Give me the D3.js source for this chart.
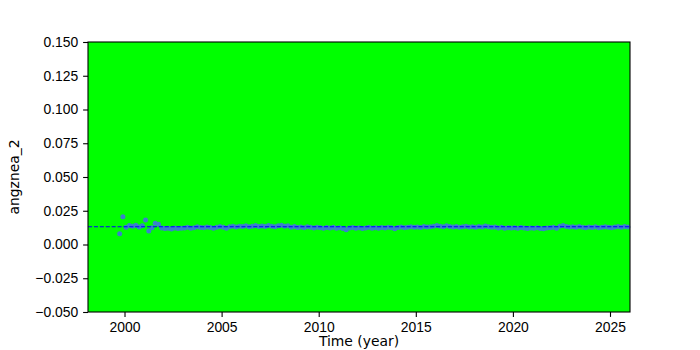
<!DOCTYPE html>
<html>
<head>
<meta charset="utf-8">
<script src="https://cdn.jsdelivr.net/npm/d3@7"></script>
<style>
  body { margin: 0; background: #fff; }
  svg { display: block; font-family: "DejaVu Sans", sans-serif; }
</style>
</head>
<body>
<svg id="chart" width="700" height="350"></svg>
<script>
//  data: one value every two months, starting at 1999.75
const start_year = 1999.75;
const step_year = 1 / 6;
const values = [
  0.0080, 0.0205,
  0.0128, 0.0140, 0.0135, 0.0142, 0.0130, 0.0138,
  0.0182, 0.0100, 0.0125, 0.0157, 0.0150, 0.0122,
  0.0118, 0.0120, 0.0115, 0.0122, 0.0118, 0.0120,
  0.0123, 0.0128, 0.0120, 0.0125, 0.0132, 0.0126,
  0.0124, 0.0130, 0.0126, 0.0121, 0.0128, 0.0133,
  0.0127, 0.0120, 0.0131, 0.0135, 0.0130, 0.0136,
  0.0133, 0.0138, 0.0132, 0.0136, 0.0140, 0.0134,
  0.0137, 0.0133, 0.0140, 0.0136, 0.0131, 0.0138,
  0.0142, 0.0135, 0.0139, 0.0128, 0.0133, 0.0126,
  0.0129, 0.0124, 0.0131, 0.0127, 0.0122, 0.0128,
  0.0125, 0.0121, 0.0126, 0.0123, 0.0127, 0.0120,
  0.0124, 0.0118, 0.0110, 0.0122, 0.0126, 0.0121,
  0.0125, 0.0119, 0.0123, 0.0127, 0.0121, 0.0124,
  0.0120, 0.0126, 0.0122, 0.0128, 0.0124, 0.0117,
  0.0126, 0.0130, 0.0124, 0.0128, 0.0132, 0.0127,
  0.0130, 0.0126, 0.0133, 0.0129, 0.0131, 0.0135,
  0.0140, 0.0136, 0.0132, 0.0138, 0.0134, 0.0130,
  0.0133, 0.0127, 0.0131, 0.0135, 0.0129, 0.0132,
  0.0128, 0.0134, 0.0130, 0.0137, 0.0131, 0.0127,
  0.0129, 0.0123, 0.0127, 0.0121, 0.0125, 0.0122,
  0.0124, 0.0120, 0.0126, 0.0122, 0.0118, 0.0123,
  0.0121, 0.0125, 0.0119, 0.0116, 0.0122, 0.0124,
  0.0127, 0.0121, 0.0135, 0.0140, 0.0133, 0.0129,
  0.0131, 0.0127, 0.0134, 0.0128, 0.0125, 0.0130,
  0.0126, 0.0131, 0.0124, 0.0128, 0.0132, 0.0127,
  0.0125, 0.0130, 0.0133, 0.0127, 0.0134, 0.0129
];
const mean_value = 0.0132;
const x_ticks = [2000, 2005, 2010, 2015, 2020, 2025];
const y_ticks = [-0.05, -0.025, 0, 0.025, 0.05, 0.075, 0.1, 0.125, 0.15];
const x_domain = [1998.12, 2026.03];
const y_domain = [-0.05, 0.15];

//  draw
function draw_chart() {
  const margin = ({top: 42, right: 70, bottom: 38, left: 88});
  const svg = d3.select("#chart");
  const w = 700, h = 350;
  const fs = 13.9;

  const x = d3.scaleLinear().domain(x_domain).range([margin.left, w - margin.right]);
  const y = d3.scaleLinear().domain(y_domain).range([h - margin.bottom, margin.top]);

  svg.append("rect")
    .attr("x", margin.left).attr("y", margin.top)
    .attr("width", w - margin.left - margin.right)
    .attr("height", h - margin.top - margin.bottom)
    .attr("fill", "#00ff00");

  const data = values.map((v, i) => ({year: start_year + i * step_year, value: v}));

  svg.append("g")
    .selectAll("circle")
    .data(data)
    .join("circle")
      .attr("cx", d => x(d.year))
      .attr("cy", d => y(d.value))
      .attr("r", 2.5)
      .attr("fill", "#3a80cc");

  svg.append("line")
    .attr("x1", margin.left).attr("x2", w - margin.right)
    .attr("y1", y(mean_value)).attr("y2", y(mean_value))
    .attr("stroke", "#0000ff")
    .attr("stroke-width", 1.1)
    .attr("stroke-dasharray", "4.1,1.8");

  //  frame
  svg.append("rect")
    .attr("x", margin.left).attr("y", margin.top)
    .attr("width", w - margin.left - margin.right)
    .attr("height", h - margin.top - margin.bottom)
    .attr("fill", "none")
    .attr("stroke", "#000")
    .attr("stroke-width", 1.1);

  const xAxis = g => g
    .attr("transform", `translate(0,${h - margin.bottom})`)
    .call(d3.axisBottom(x).tickValues(x_ticks).tickFormat(d3.format("d"))
      .tickSizeInner(4.9).tickSizeOuter(0).tickPadding(4.9))
    .call(g => g.select(".domain").remove())
    .call(g => g.selectAll(".tick line").attr("stroke-width", 1.1))
    .call(g => g.selectAll(".tick text").attr("font-size", fs).attr("font-family", null).attr("fill", "#000"));

  const yAxis = g => g
    .attr("transform", `translate(${margin.left},0)`)
    .call(d3.axisLeft(y).tickValues(y_ticks).tickFormat(d3.format(".3f"))
      .tickSizeInner(4.9).tickSizeOuter(0).tickPadding(4.9))
    .call(g => g.select(".domain").remove())
    .call(g => g.selectAll(".tick line").attr("stroke-width", 1.1))
    .call(g => g.selectAll(".tick text").attr("font-size", fs).attr("font-family", null).attr("fill", "#000"));

  svg.append("g").call(xAxis);
  svg.append("g").call(yAxis);

  //  kept just inside the bottom edge so the descenders are not cut
  svg.append("text")
    .attr("x", (margin.left + w - margin.right) / 2)
    .attr("y", 346)
    .attr("text-anchor", "middle")
    .attr("font-size", fs)
    .text("Time (year)");

  svg.append("text")
    .attr("transform", `translate(19,${(margin.top + h - margin.bottom) / 2}) rotate(-90)`)
    .attr("text-anchor", "middle")
    .attr("font-size", fs)
    .text("angznea_2");
}

draw_chart();
</script>
</body>
</html>
